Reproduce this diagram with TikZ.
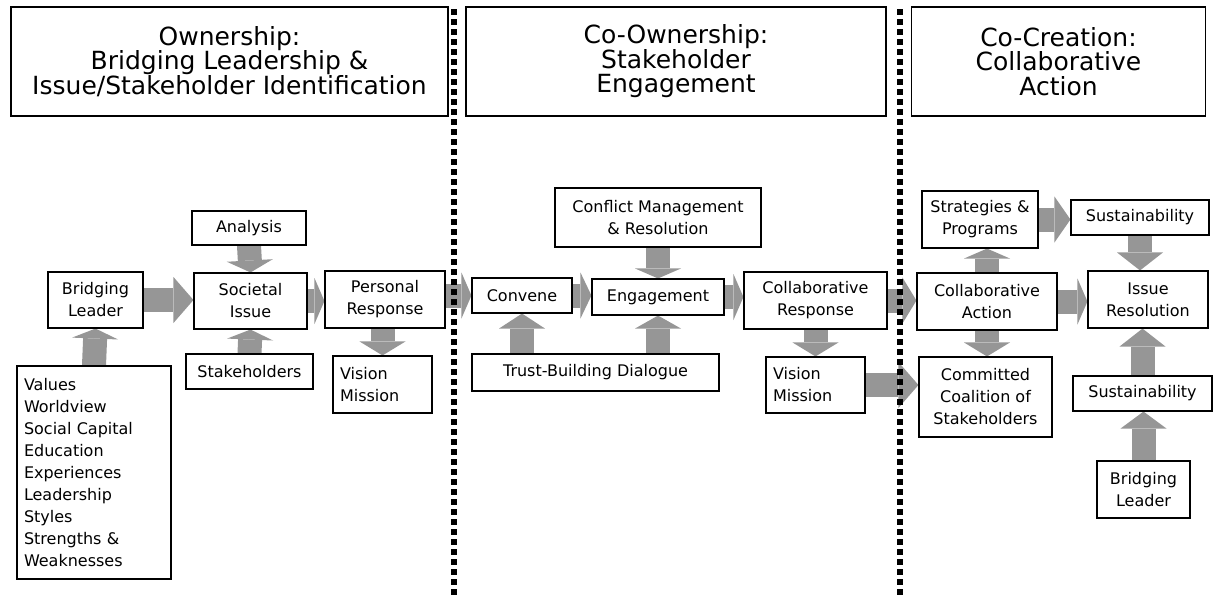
\documentclass[tikz,border=0pt]{standalone}
\usepackage{fontspec}
\setmainfont{DejaVu Sans}
\usetikzlibrary{arrows.meta}
\usetikzlibrary{backgrounds}
\definecolor{arrowgray}{RGB}{150,150,150}
\tikzset{
    stage box/.style={
        draw,
        fill=white,
        line width=1.1pt,
        align=center,
        inner sep=0pt,
        font=\fontsize{25}{24.5}\selectfont,
    },
    step box/.style={
        draw,
        fill=white,
        line width=1.1pt,
        align=center,
        inner sep=0pt,
        font=\fontsize{16}{22}\selectfont,
    },
    list box/.style={
        step box,
        align=left,
        text width=#1,
        inner xsep=7pt,
    },
    block arrow/.style={
        line width=24pt,
        color=arrowgray,
        -{Triangle[width=46pt, length=#1, line width=0pt]},
    },
    block arrow/.default=12pt,
    stage divider/.style={
        line width=5.5pt,
        dash pattern=on 6pt off 4pt,
    },
}
\begin{document}
\begin{tikzpicture}[x=1pt, y=-1pt]
    \useasboundingbox (0,0) rectangle (1224,598);

    % stages
    \node[stage box, minimum width=437, minimum height=109] (own) at (229.5,61.5)
        {Ownership:\\Bridging Leadership \&\\Issue/Stakeholder Identification};
    \node[stage box, minimum width=420, minimum height=109] (coown) at (676,61.5)
        {Co-Ownership:\\Stakeholder\\Engagement};
    \node[stage box, minimum width=294, minimum height=109] (cocre) at (1058.5,61.5)
        {Co-Creation:\\Collaborative\\Action};

    \foreach \x in {454,900}
    {
        \draw[stage divider] (\x,9) -- (\x,598);
    }

    % ownership
    \node[step box, minimum width=114, minimum height=34] (ana) at (249,228) {Analysis};
    \node[step box, minimum width=95, minimum height=56] (bl) at (95.5,300) {Bridging\\Leader};
    \node[step box, minimum width=113, minimum height=56] (si) at (250.5,301) {Societal\\Issue};
    \node[step box, minimum width=120, minimum height=57] (pr) at (385,299.5) {Personal\\Response};
    \node[step box, minimum width=127, minimum height=35] (sh) at (249.5,371.5) {Stakeholders};
    \node[list box=85, minimum height=57] (vm) at (382.5,384.5) {Vision\\Mission};
    \node[list box=140, minimum height=213] (val) at (94,472.5)
        {Values\\Worldview\\Social Capital\\Education\\Experiences\\Leadership\\Styles\\Strengths \&\\Weaknesses};

    % co-ownership
    \node[step box, minimum width=206, minimum height=59] (cm) at (658,217.5) {Conflict Management\\\& Resolution};
    \node[step box, minimum width=100, minimum height=35] (cv) at (522,295.5) {Convene};
    \node[step box, minimum width=132, minimum height=36] (eg) at (658,297) {Engagement};
    \node[step box, minimum width=143, minimum height=57] (cr) at (815.5,300.5) {Collaborative\\Response};
    \node[step box, minimum width=247, minimum height=37] (tb) at (595.5,372.5) {Trust-Building Dialogue};
    \node[list box=85, minimum height=56] (vmb) at (815.5,385) {Vision\\Mission};

    % co-creation
    \node[step box, minimum width=116, minimum height=57] (sp) at (980,219.5) {Strategies \&\\Programs};
    \node[step box, minimum width=138, minimum height=35] (su) at (1140,217.5) {Sustainability};
    \node[step box, minimum width=140, minimum height=57] (ca) at (987,301.5) {Collaborative\\Action};
    \node[step box, minimum width=120, minimum height=57] (ir) at (1148,299.5) {Issue\\Resolution};
    \node[step box, minimum width=133, minimum height=80] (cc) at (985.5,397) {Committed\\Coalition of\\Stakeholders};
    \node[step box, minimum width=139, minimum height=35] (sub) at (1142.5,393.5) {Sustainability};
    \node[step box, minimum width=93, minimum height=57] (blb) at (1143.5,489.5) {Bridging\\Leader};

    \begin{scope}[on background layer]
        \draw[block arrow=10pt] (val.north) -- (bl.south);
        \draw[block arrow] (ana.south) -- (si.north);
        \draw[block arrow=10pt] (sh.north) -- (si.south);
        \draw[block arrow=20pt] (bl.east) -- (bl.east -| si.west);
        \draw[block arrow=10pt] (si.east) -- (si.east -| pr.west);
        \draw[block arrow=14pt] (vm.north |- pr.south) -- (vm.north);
        \draw[block arrow=10pt] (pr.east |- cv.west) -- (cv.west);

        \draw[block arrow=10pt] (cm.south) -- (eg.north);
        \draw[block arrow=11pt] (cv.east) -- (cv.east -| eg.west);
        \draw[block arrow=15pt] (cv.south |- tb.north) -- (cv.south);
        \draw[block arrow=13pt] (eg.south |- tb.north) -- (eg.south);
        \draw[block arrow=10pt] (eg.east) -- (eg.east -| cr.west);
        \draw[block arrow=14pt] (cr.south) -- (vmb.north);
        \draw[block arrow=14pt] (cr.east) -- (cr.east -| ca.west);
        \draw[block arrow=20pt] (vmb.east) -- (vmb.east -| cc.west);

        \draw[block arrow=10pt] (ca.north) -- (ca.north |- sp.south);
        \draw[block arrow=14pt] (ca.south) -- (ca.south |- cc.north);
        \draw[block arrow=16pt] (sp.east) -- (sp.east -| su.west);
        \draw[block arrow=18pt] (su.south) -- (su.south |- ir.north);
        \draw[block arrow=10pt] (ca.east) -- (ca.east -| ir.west);
        \draw[block arrow=18pt] (sub.north) -- (sub.north |- ir.south);
        \draw[block arrow=17pt] (blb.north) -- (blb.north |- sub.south);
    \end{scope}

\end{tikzpicture}
\end{document}
